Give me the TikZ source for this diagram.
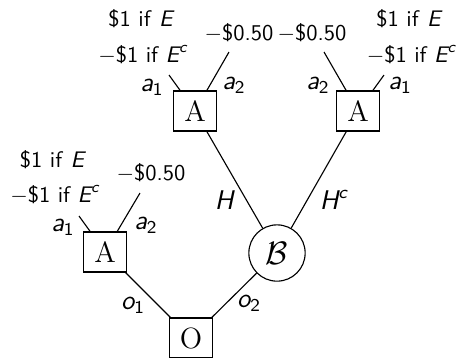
\documentclass[tikz,border=0pt]{standalone}
\usepackage{amsmath}
\newcommand{\sit}[1]{\textsf{\itshape #1}}
\newcommand{\lbl}[2]{$\sit{#1}_{\textsf{#2}}$}
\newcommand{\Ec}{$\sit{E}^{\sit{c}}$}
\begin{document}
\begin{tikzpicture}[x=0.444pt,y=-0.444pt,
  dec/.style={draw,line width=0.5pt,minimum width=19.3pt,minimum height=17.8pt,inner sep=0pt,font=\fontsize{13}{15}\selectfont},
  chance/.style={draw,circle,line width=0.5pt,minimum size=25pt,inner sep=0pt,font=\fontsize{15}{17}\selectfont},
  txt/.style={inner sep=0pt,font=\sffamily},
  vlbl/.style={inner sep=0pt,font=\sffamily\large},
  edge/.style={line width=0.5pt}]
\useasboundingbox (0,0) rectangle (458,357);
% main nodes
\node[dec] (O) at (191,338) {O};
\node[dec] (A1) at (105,252) {A};
\node[chance] (B) at (277,253) {$\mathcal{B}$};
\node[dec] (A2) at (195,111) {A};
\node[dec] (A3) at (358,111) {A};
% main edges
\draw[edge] (O) -- (A1);
\draw[edge] (O) -- (B);
\draw[edge] (B) -- (A2);
\draw[edge] (B) -- (A3);
% edge labels
\node[vlbl] (lo1) at (133,305) {\lbl{o}{1}};
\node[vlbl] (lo2) at (249,303) {\lbl{o}{2}};
\node[vlbl] (lH) at (225,200) {\sit{H}};
\node[vlbl] (lHc) at (334,200) {$\sit{H}^{\sit{c}}$};
% leaves of A1
\coordinate (e11) at (79,216);
\coordinate (e12) at (140,193);
\draw[edge] (A1) -- (e11);
\draw[edge] (A1) -- (e12);
\node[vlbl] (l11) at (63,227) {\lbl{a}{1}};
\node[vlbl] (l12) at (146,225) {\lbl{a}{2}};
\node[txt] (p11a) at (53,160) {\$1 if \sit{E}};
\node[txt] (p11b) at (55,195) {$-$\$1 if \Ec};
\node[txt] (p12) at (151,173) {$-$\$0.50};
% leaves of A2
\coordinate (e21) at (169,75);
\coordinate (e22) at (229,52);
\draw[edge] (A2) -- (e21);
\draw[edge] (A2) -- (e22);
\node[vlbl] (l21) at (152,87) {\lbl{a}{1}};
\node[vlbl] (l22) at (234,85) {\lbl{a}{2}};
\node[txt] (p21a) at (141.5,19) {\$1 if \sit{E}};
\node[txt] (p21b) at (143,55) {$-$\$1 if \Ec};
\node[txt] (p22) at (239,33) {$-$\$0.50};
% leaves of A3
\coordinate (e31) at (384,75);
\coordinate (e32) at (324,52);
\draw[edge] (A3) -- (e31);
\draw[edge] (A3) -- (e32);
\node[vlbl] (l31) at (400,85) {\lbl{a}{1}};
\node[vlbl] (l32) at (318,85) {\lbl{a}{2}};
\node[txt] (p31a) at (409.5,19) {\$1 if \sit{E}};
\node[txt] (p31b) at (411.5,55) {$-$\$1 if \Ec};
\node[txt] (p32) at (312,33) {$-$\$0.50};
\end{tikzpicture}
\end{document}
